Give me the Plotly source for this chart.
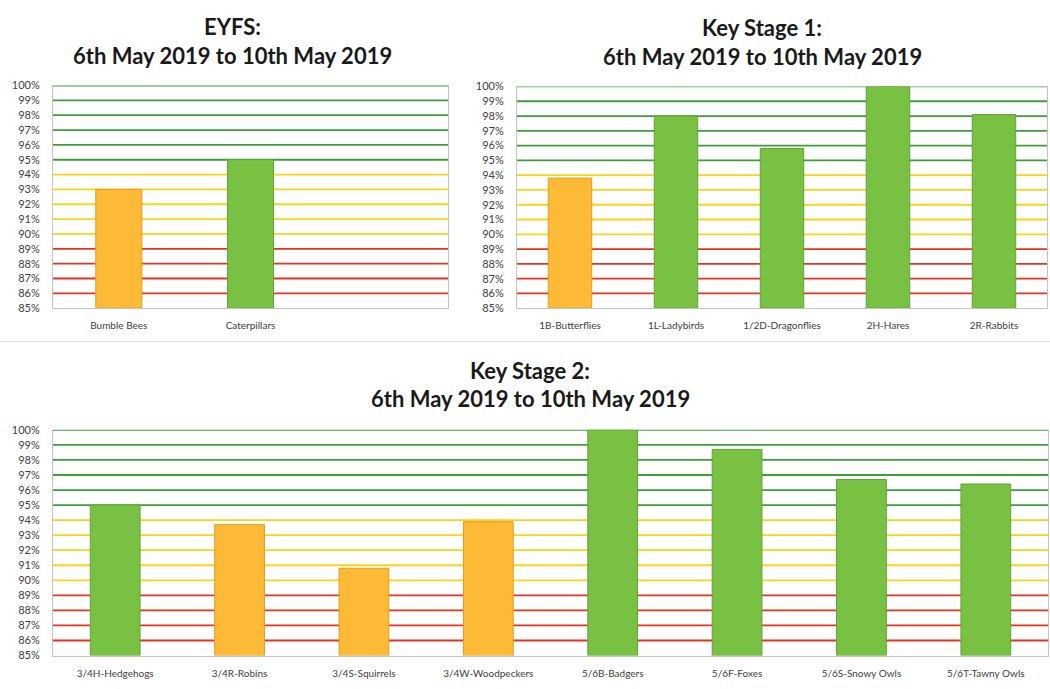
import plotly.graph_objects as go

# ---------------- data ----------------
eyfs_classes = ["Bumble Bees", "Caterpillars"]
eyfs_values = [93.0, 95.0]

ks1_classes = ["1B-Butterflies", "1L-Ladybirds", "1/2D-Dragonflies", "2H-Hares", "2R-Rabbits"]
ks1_values = [93.8, 98.0, 95.8, 100.0, 98.1]

ks2_classes = ["3/4H-Hedgehogs", "3/4R-Robins", "3/4S-Squirrels", "3/4W-Woodpeckers",
               "5/6B-Badgers", "5/6F-Foxes", "5/6S-Snowy Owls", "5/6T-Tawny Owls"]
ks2_values = [95.0, 93.7, 90.8, 93.9, 100.0, 98.7, 96.7, 96.4]

y_ticks = list(range(85, 101))
y_ticktext = [f"{v}%" for v in y_ticks]

title_heads = ["EYFS:", "Key Stage 1:", "Key Stage 2:"]
title_period = "6th May 2019 to 10th May 2019"

TARGET = 95
WARN = 90

# ---------------- style ----------------
W, H = 1050, 689
GREEN_BAR = "#79C143"
GREEN_EDGE = "#5FA534"
ORANGE_BAR = "#FCBA36"
ORANGE_EDGE = "#E39D22"
RED_LINE = "#E8321E"
YEL_LINE = "#FFD21A"
GRN_LINE = "#3E9E3A"
FONT = "Lato"


def px_x(a, b):
    return [a / W, b / W]


def px_y(top, bottom):
    return [1 - bottom / H, 1 - top / H]


fig = go.Figure()

panels = [
    dict(cats=eyfs_classes, vals=eyfs_values, xa="x", ya="y", xdom=px_x(53, 448), ydom=px_y(80, 307),
         width=0.35, nslots=3, head=title_heads[0], tx=232, ty1=20, ty2=49),
    dict(cats=ks1_classes, vals=ks1_values, xa="x2", ya="y2", xdom=px_x(517, 1047), ydom=px_y(81, 307),
         width=0.41, nslots=5, head=title_heads[1], tx=762, ty1=21, ty2=50),
    dict(cats=ks2_classes, vals=ks2_values, xa="x3", ya="y3", xdom=px_x(53, 1048), ydom=px_y(431, 661),
         width=0.40, nslots=8, head=title_heads[2], tx=530, ty1=370, ty2=399),
]

for i, p in enumerate(panels):
    colors = [GREEN_BAR if v >= TARGET else ORANGE_BAR for v in p["vals"]]
    edges = [GREEN_EDGE if v >= TARGET else ORANGE_EDGE for v in p["vals"]]
    fig.add_trace(go.Bar(
        x=p["cats"], y=[v - 85 for v in p["vals"]], base=85,
        width=p["width"], xaxis=p["xa"], yaxis=p["ya"],
        marker=dict(color=colors, line=dict(color=edges, width=1)),
        showlegend=False, hoverinfo="skip",
    ))
    sfx = "" if i == 0 else str(i + 1)
    fig.layout["xaxis" + sfx] = dict(
        domain=p["xdom"], anchor="y" + sfx, type="category",
        range=[-0.5, p["nslots"] - 0.5],
        showgrid=False, showline=True, linecolor="#C4C4C4", linewidth=1,
        ticks="outside", ticklen=8, tickcolor="rgba(0,0,0,0)",
        tickfont=dict(family=FONT, size=10, color="#404040"),
        fixedrange=True,
    )
    fig.layout["yaxis" + sfx] = dict(
        domain=p["ydom"], anchor="x" + sfx, range=[85, 100],
        tickvals=y_ticks, ticktext=y_ticktext,
        showgrid=False, showline=True, mirror=True, linecolor="#C4C4C4", linewidth=1,
        ticks="outside", ticklen=10, tickcolor="rgba(0,0,0,0)",
        tickfont=dict(family=FONT, size=11, color="#404040"),
        zeroline=False, fixedrange=True,
    )
    # coloured threshold gridlines
    for lvl in y_ticks[1:]:
        if lvl >= TARGET:
            c = GRN_LINE
        elif lvl >= WARN:
            c = YEL_LINE
        else:
            c = RED_LINE
        fig.add_shape(type="line", xref=p["xa"] + " domain", yref=p["ya"],
                      x0=0, x1=1, y0=lvl, y1=lvl, layer="below",
                      line=dict(color=c, width=1.8))
    for txt, ty in ((p["head"], p["ty1"]), (title_period, p["ty2"])):
        fig.add_annotation(text=txt, xref="paper", yref="paper",
                           x=p["tx"] / W, y=1 - ty / H, xanchor="center", yanchor="middle",
                           showarrow=False, align="center",
                           font=dict(family=FONT, size=22, color="#1a1a1a", weight="bold"))

# faint separator between the top and bottom charts
fig.add_shape(type="line", xref="paper", yref="paper", x0=0, x1=1,
              y0=1 - 341 / H, y1=1 - 341 / H, line=dict(color="#E2E2E2", width=1))

fig.update_layout(
    width=W, height=H, margin=dict(l=0, r=0, t=0, b=0),
    paper_bgcolor="white", plot_bgcolor="white",
    bargap=0.6, font=dict(family=FONT),
)

fig.write_html("out.html", config={"displayModeBar": False},
               post_script="document.body.style.margin='0';document.body.style.overflow='hidden';")
